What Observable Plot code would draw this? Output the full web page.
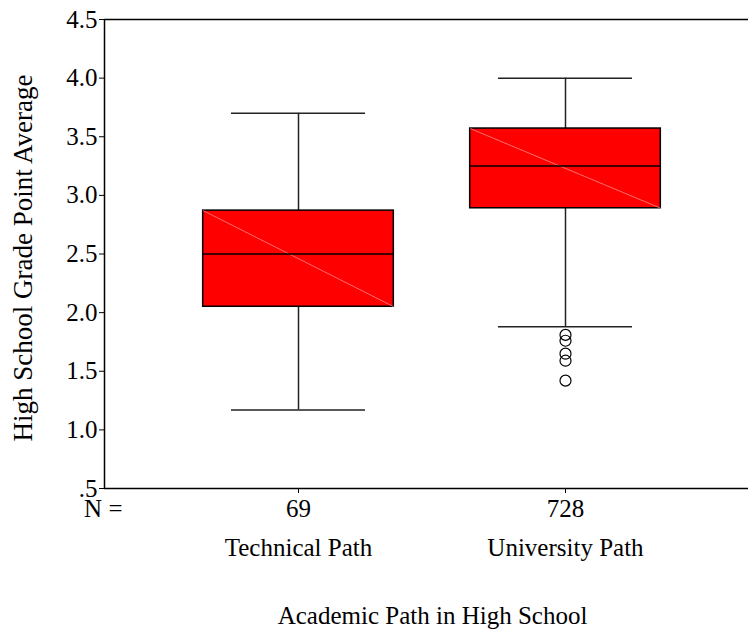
<!DOCTYPE html>
<html>
<head>
<meta charset="utf-8">
<script src="https://cdn.jsdelivr.net/npm/d3@7"></script>
<script src="https://cdn.jsdelivr.net/npm/@observablehq/plot@0.6"></script>
<style>
  body { margin: 0; background: #fff; }
  #chart svg { display: block; }
</style>
</head>
<body>
<div id="chart"></div>
<script>
// ---- data ----
const categories = ["Technical Path", "University Path"];
const nValues = [69, 728];
const lowerWhisker = [1.17, 1.88];
const q1 = [2.05, 2.89];
const median = [2.50, 3.25];
const q3 = [2.87, 3.57];
const upperWhisker = [3.70, 4.00];
const outlierCategory = ["University Path", "University Path", "University Path", "University Path", "University Path"];
const outlierValues = [1.81, 1.76, 1.65, 1.59, 1.42];
const yTicks = [0.5, 1.0, 1.5, 2.0, 2.5, 3.0, 3.5, 4.0, 4.5];
const yTitle = "High School Grade Point Average";
const xTitle = "Academic Path in High School";

// ---- tables built from the arrays ----
const boxes = categories.map((c, i) => ({
  cat: c, pos: i + 1, n: nValues[i],
  lo: lowerWhisker[i], q1: q1[i], med: median[i], q3: q3[i], hi: upperWhisker[i]
}));
const outliers = outlierValues.map((v, i) => ({pos: categories.indexOf(outlierCategory[i]) + 1, v}));

const boxHalf = 0.357;
const capHalf = 0.251;
const xDomain = [0.2734, 2.6854];
const yDomain = [0.5, 4.5];

const fmtY = v => d3.format(".1f")(v).replace(/^0\./, ".");
const font = "'Liberation Serif', 'Times New Roman', serif";

const chart = Plot.plot({
  width: 748,
  height: 629,
  marginLeft: 104,
  marginRight: 0,
  marginTop: 19,
  marginBottom: 141,
  style: {fontFamily: font, fontSize: "25px", color: "#000", background: "#fff"},
  x: {domain: xDomain},
  y: {domain: yDomain},
  marks: [
    // frame lines (top, left, bottom)
    Plot.ruleY([yDomain[1]], {stroke: "#000", strokeWidth: 1.5}),
    Plot.ruleY([yDomain[0]], {stroke: "#000", strokeWidth: 1.5}),
    Plot.ruleX([xDomain[0]], {stroke: "#000", strokeWidth: 1.5}),
    // whiskers
    Plot.ruleX(boxes, {x: "pos", y1: "q3", y2: "hi", stroke: "#222", strokeWidth: 1.5}),
    Plot.ruleX(boxes, {x: "pos", y1: "q1", y2: "lo", stroke: "#222", strokeWidth: 1.5}),
    Plot.ruleY(boxes, {y: "hi", x1: d => d.pos - capHalf, x2: d => d.pos + capHalf, stroke: "#222", strokeWidth: 1.5}),
    Plot.ruleY(boxes, {y: "lo", x1: d => d.pos - capHalf, x2: d => d.pos + capHalf, stroke: "#222", strokeWidth: 1.5}),
    // boxes
    Plot.rect(boxes, {x1: d => d.pos - boxHalf, x2: d => d.pos + boxHalf, y1: "q1", y2: "q3", fill: "#ff0000", stroke: "#000", strokeWidth: 1.5}),
    Plot.link(boxes, {x1: d => d.pos - boxHalf, y1: "q3", x2: d => d.pos + boxHalf, y2: "q1", stroke: "#ff8a8a", strokeWidth: 0.8}),
    Plot.ruleY(boxes, {y: "med", x1: d => d.pos - boxHalf, x2: d => d.pos + boxHalf, stroke: "#000", strokeWidth: 1.5}),
    // outliers
    Plot.dot(outliers, {x: "pos", y: "v", r: 5.5, stroke: "#000", fill: "none", strokeWidth: 1.2}),
    // axes
    Plot.axisY({ticks: yTicks, tickFormat: fmtY, tickSize: 5, tickPadding: 2, label: null}),
    Plot.text([yTitle], {frameAnchor: "left", dx: -81, dy: 4, rotate: -90, lineAnchor: "middle", textAnchor: "middle", fontSize: 27}),
    Plot.axisX({ticks: boxes.map(d => d.pos), tickFormat: d => nValues[d - 1], tickSize: 5, tickPadding: 6, label: null}),
    Plot.axisX({ticks: boxes.map(d => d.pos), tickFormat: d => categories[d - 1], tickSize: 0, tickPadding: 50, label: null}),
    Plot.text([xTitle], {frameAnchor: "bottom", dx: 6, dy: 135, lineAnchor: "bottom", fontSize: 25}),
    Plot.text(["N ="], {frameAnchor: "bottom-left", dx: 18, dy: 11, lineAnchor: "top", textAnchor: "end", fontSize: 25})
  ]
});
document.getElementById("chart").appendChild(chart);
</script>
</body>
</html>
